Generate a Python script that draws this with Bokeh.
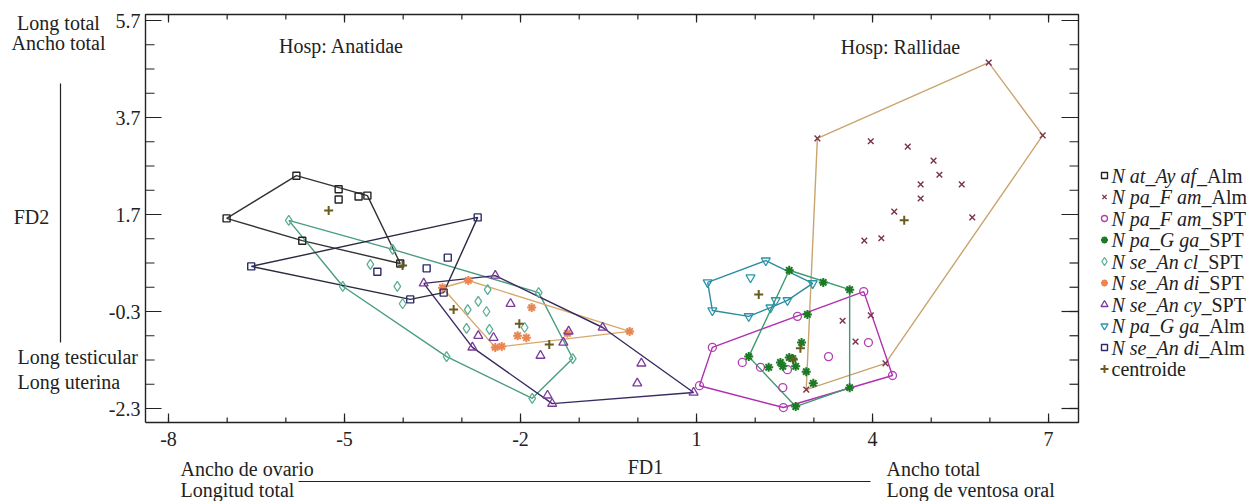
from bokeh.plotting import figure
from bokeh.models import Range1d, Label
from bokeh.embed import file_html
from bokeh.resources import INLINE
from bokeh.core.properties import value

# ---------------- data (FD1, FD2 scores) ----------------
at_ay_af_alm_x = [-7.01, -5.82, -5.10, -5.10, -4.76, -4.61, -4.05, -5.72]
at_ay_af_alm_y = [1.62, 2.50, 2.22, 2.01, 2.07, 2.09, 0.69, 1.16]

pa_f_am_alm_x = [3.06, 5.98, 6.90, 3.97, 4.60, 5.04, 5.14, 4.82, 4.82, 5.52, 4.37, 5.70, 3.86, 4.15, 3.49, 3.97, 3.71, 2.87, 4.22]
pa_f_am_alm_y = [3.27, 4.83, 3.33, 3.21, 3.10, 2.81, 2.52, 2.32, 2.03, 2.32, 1.76, 1.64, 1.16, 1.21, -0.49, -0.38, -0.92, -1.91, -1.37]

pa_f_am_spt_x = [3.85, 2.72, 1.27, 1.05, 2.48, 4.34, 1.78, 2.09, 2.55, 3.25, 3.93, 2.47]
pa_f_am_spt_y = [0.11, -0.40, -1.04, -1.83, -2.28, -1.62, -1.35, -1.45, -1.50, -1.23, -0.94, -1.87]

pa_g_ga_spt_x = [2.58, 3.16, 3.61, 2.89, 1.89, 2.23, 2.43, 2.47, 2.58, 2.64, 2.69, 2.79, 2.87, 2.99, 3.61, 2.69]
pa_g_ga_spt_y = [0.55, 0.30, 0.15, -0.36, -1.23, -1.45, -1.35, -1.43, -1.25, -1.27, -1.43, -0.94, -1.54, -1.78, -1.87, -2.26]

se_an_cl_spt_x = [-5.95, -4.18, -4.56, -4.10, -4.01, -5.03, -3.26, -1.80, -1.11, -1.69, -2.56, -2.72, -2.90, -2.58, -2.92, -2.53, -1.93]
se_an_cl_spt_y = [1.58, 0.98, 0.67, 0.22, -0.14, 0.22, -1.23, -2.09, -1.27, 0.09, 0.15, -0.09, -0.26, -0.30, -0.65, -0.67, -0.63]

se_an_di_spt_x = [-3.33, -2.89, -1.81, -2.05, -1.90, -2.43, -2.32, -1.20, -0.14]
se_an_di_spt_y = [0.19, 0.34, -0.22, -0.80, -0.84, -1.04, -1.02, -0.75, -0.71]

se_an_cy_spt_x = [-3.65, -2.43, -2.17, -2.72, -2.46, -2.82, -1.66, -1.27, -1.18, -0.60, 0.06, -0.01, 0.95, -1.54, -1.46]
se_an_cy_spt_y = [0.28, 0.44, -0.14, -0.80, -0.84, -1.04, -1.21, -0.94, -0.71, -0.63, -1.37, -1.78, -1.97, -2.03, -2.20]

pa_g_ga_alm_x = [1.19, 2.18, 1.92, 2.98, 2.55, 2.35, 2.26, 1.89, 1.27]
pa_g_ga_alm_y = [0.30, 0.75, 0.40, 0.28, -0.07, -0.07, -0.22, -0.40, -0.28]

se_an_di_alm_x = [-6.59, -2.73, -3.31, -3.88, -4.44, -3.24, -3.60]
se_an_di_alm_y = [0.63, 1.64, 0.09, -0.05, 0.52, 0.81, 0.59]

centroid_x = [-5.27, 4.54, 2.65, 2.77, -3.14, -2.02, -1.51, 2.06, -4.01]
centroid_y = [1.78, 1.58, -1.29, -1.06, -0.26, -0.55, -0.98, 0.05, 0.65]

# legend names: italic part, roman part
legend_italic = ["N at_Ay af", "N pa_F am", "N pa_F am", "N pa_G ga", "N se_An cl",
                 "N se_An di", "N se_An cy", "N pa_G ga", "N se_An di"]
legend_roman = ["_Alm", "_Alm", "_SPT", "_SPT", "_SPT", "_SPT", "_SPT", "_Alm", "_Alm"]
centroid_label = "centroide"

x_ticks = [-8, -5, -2, 1, 4, 7]
x_tick_labels = ["-8", "-5", "-2", "1", "4", "7"]
y_ticks = [-2.3, -0.3, 1.7, 3.7, 5.7]
y_tick_labels = ["-2.3", "-0.3", "1.7", "3.7", "5.7"]
x_minor = [-8, -7, -6, -5, -4, -3, -2, -1, 0, 1, 2, 3, 4, 5, 6, 7]
y_minor = [-2.3, -1.8, -1.3, -0.8, -0.3, 0.2, 0.7, 1.2, 1.7, 2.2, 2.7, 3.2, 3.7, 4.2, 4.7, 5.2, 5.7]

# ---------------- styles / layout ----------------
FONT = "Liberation Serif"
FS = 20
INK = "#222222"
series = [
    (at_ay_af_alm_x, at_ay_af_alm_y, "square", "#222222", "#333333", 7, 1.4),
    (pa_f_am_alm_x, pa_f_am_alm_y, "x", "#7b3348", "#c9a46e", 8, 1.4),
    (pa_f_am_spt_x, pa_f_am_spt_y, "circle", "#b040b0", "#b030b0", 8, 1.3),
    (pa_g_ga_spt_x, pa_g_ga_spt_y, "asterisk", "#1d7a24", "#3e9a70", 9, 2.0),
    (se_an_cl_spt_x, se_an_cl_spt_y, "diamond", "#5cae94", "#4a9c80", 10, 1.3),
    (se_an_di_spt_x, se_an_di_spt_y, "asterisk", "#ec8550", "#d8a86a", 9, 2.0),
    (se_an_cy_spt_x, se_an_cy_spt_y, "triangle", "#7a3a9a", "#3a2a62", 9, 1.3),
    (pa_g_ga_alm_x, pa_g_ga_alm_y, "inverted_triangle", "#2a94a8", "#2a8c9c", 9, 1.3),
    (se_an_di_alm_x, se_an_di_alm_y, "square", "#2c2c6a", "#2a2a40", 7, 1.4),
]
CENT_COLOR = "#6b5a1e"

W, H = 1258, 501
PX_X = 58.67   # pixels per FD1 unit
PX_Y = 48.5    # pixels per FD2 unit


def X(px):  # canvas pixel -> FD1 coordinate
    return -8 + (px - 168) / PX_X


def Y(py):  # canvas pixel -> FD2 coordinate
    return 5.7 - (py - 20) / PX_Y


def convex_hull(xs, ys):
    pts = sorted(set(zip(xs, ys)))

    def cross(o, a, b):
        return (a[0] - o[0]) * (b[1] - o[1]) - (a[1] - o[1]) * (b[0] - o[0])

    lower, upper = [], []
    for p_ in pts:
        while len(lower) >= 2 and cross(lower[-2], lower[-1], p_) <= 0:
            lower.pop()
        lower.append(p_)
    for p_ in reversed(pts):
        while len(upper) >= 2 and cross(upper[-2], upper[-1], p_) <= 0:
            upper.pop()
        upper.append(p_)
    h = lower[:-1] + upper[:-1]
    h.append(h[0])
    return [q[0] for q in h], [q[1] for q in h]


p = figure(width=W, height=H, x_range=Range1d(X(0), X(W)), y_range=Range1d(Y(H), Y(0)),
           x_axis_type=None, y_axis_type=None, toolbar_location=None, output_backend="svg",
           min_border=0)
p.grid.visible = False
p.outline_line_color = None
p.background_fill_color = "white"
p.border_fill_color = "white"

# plot box
xlo, xhi, ylo, yhi = X(145), X(1078), Y(422), Y(14)
p.line([xlo, xhi, xhi, xlo, xlo], [ylo, ylo, yhi, yhi, ylo], line_color=INK, line_width=1.4)


def seg(x0, y0, x1, y1):
    p.segment(x0=x0, y0=y0, x1=x1, y1=y1, line_color=INK, line_width=1.2)


# ticks (inward on all four sides)
seg(x_minor, [ylo] * len(x_minor), x_minor, [ylo + 5 / PX_Y] * len(x_minor))
seg(x_ticks, [ylo] * len(x_ticks), x_ticks, [ylo + 9 / PX_Y] * len(x_ticks))
seg(x_minor, [yhi] * len(x_minor), x_minor, [yhi - 5 / PX_Y] * len(x_minor))
seg(x_ticks, [yhi] * len(x_ticks), x_ticks, [yhi - 8 / PX_Y] * len(x_ticks))
seg([xlo] * len(y_minor), y_minor, [xlo + 9 / PX_X] * len(y_minor), y_minor)
seg([xlo] * len(y_ticks), y_ticks, [xlo + 16 / PX_X] * len(y_ticks), y_ticks)
seg([xhi] * len(y_minor), y_minor, [xhi - 9 / PX_X] * len(y_minor), y_minor)
seg([xhi] * len(y_ticks), y_ticks, [xhi - 17 / PX_X] * len(y_ticks), y_ticks)

# tick labels
p.text(x=x_ticks, y=[ylo - 9 / PX_Y] * len(x_ticks), text=x_tick_labels,
       text_font=value(FONT), text_font_size=f"{FS}px", text_color=INK,
       text_align="center", text_baseline="top")
p.text(x=[xlo - 5 / PX_X] * len(y_ticks), y=y_ticks, text=y_tick_labels,
       text_font=value(FONT), text_font_size=f"{FS}px", text_color=INK,
       text_align="right", text_baseline="middle")

# hulls
for xs, ys, mk, mcol, hcol, sz, lw in series:
    hx, hy = convex_hull(xs, ys)
    p.line(hx, hy, line_color=hcol, line_width=1.4)

# points
for xs, ys, mk, mcol, hcol, sz, lw in series:
    p.scatter(xs, ys, marker=mk, size=sz, fill_color=None, line_color=mcol, line_width=lw)

p.scatter(centroid_x, centroid_y, marker="cross", size=9, line_color=CENT_COLOR, line_width=2)


def lab(px, py, text, align="left", style="normal"):
    # canvas pixel position -> screen units (origin bottom-left)
    p.add_layout(Label(x=px, y=H - py, x_units="screen", y_units="screen", text=text,
                       text_font=FONT, text_font_size=f"{FS}px", text_color=INK,
                       text_font_style=style, text_align=align, text_baseline="middle"))


lab(341, 45, "Hosp: Anatidae", "center")
lab(900, 46, "Hosp: Rallidae", "center")
lab(58, 22, "Long total", "center")
lab(58, 42, "Ancho total", "center")
lab(31, 216, "FD2", "center")
lab(17, 356, "Long testicular")
lab(17, 381, "Long uterina")
lab(180, 468, "Ancho de ovario")
lab(180, 489, "Longitud total")
lab(645, 466, "FD1", "center")
lab(886, 468, "Ancho total")
lab(886, 489, "Long de ventosa oral")

# guide lines next to the axis titles
p.segment(x0=[X(60)], y0=[Y(83)], x1=[X(60)], y1=[Y(342)], line_color=INK, line_width=1.2)
p.segment(x0=[X(298)], y0=[Y(481)], x1=[X(870)], y1=[Y(481)], line_color=INK, line_width=1.2)

# ---------------- legend ----------------
ITALIC_W = {"N": 667, " ": 250, "a": 500, "t": 278, "_": 500, "A": 611, "y": 444, "f": 278,
            "p": 500, "F": 611, "m": 722, "G": 722, "g": 500, "s": 389, "e": 444, "n": 500,
            "c": 444, "l": 278, "d": 500, "i": 278}
mark_px, text_px = 1104, 1111
row_py = [175 + 21.5 * i for i in range(len(legend_italic) + 1)]

for i, (it, ro) in enumerate(zip(legend_italic, legend_roman)):
    _, _, mk, mcol, _, sz, lw = series[i]
    p.scatter([X(mark_px)], [Y(row_py[i])], marker=mk, size=max(sz - 2, 6), fill_color=None,
              line_color=mcol, line_width=lw)
    w_it = sum(ITALIC_W.get(ch, 500) for ch in it) * FS / 1000.0
    lab(text_px, row_py[i], it, style="italic")
    lab(text_px + w_it, row_py[i], ro)

p.scatter([X(mark_px)], [Y(row_py[-1])], marker="cross", size=8, line_color=CENT_COLOR, line_width=2)
lab(text_px, row_py[-1], centroid_label)

open("out.html", "w").write(file_html(p, INLINE))
